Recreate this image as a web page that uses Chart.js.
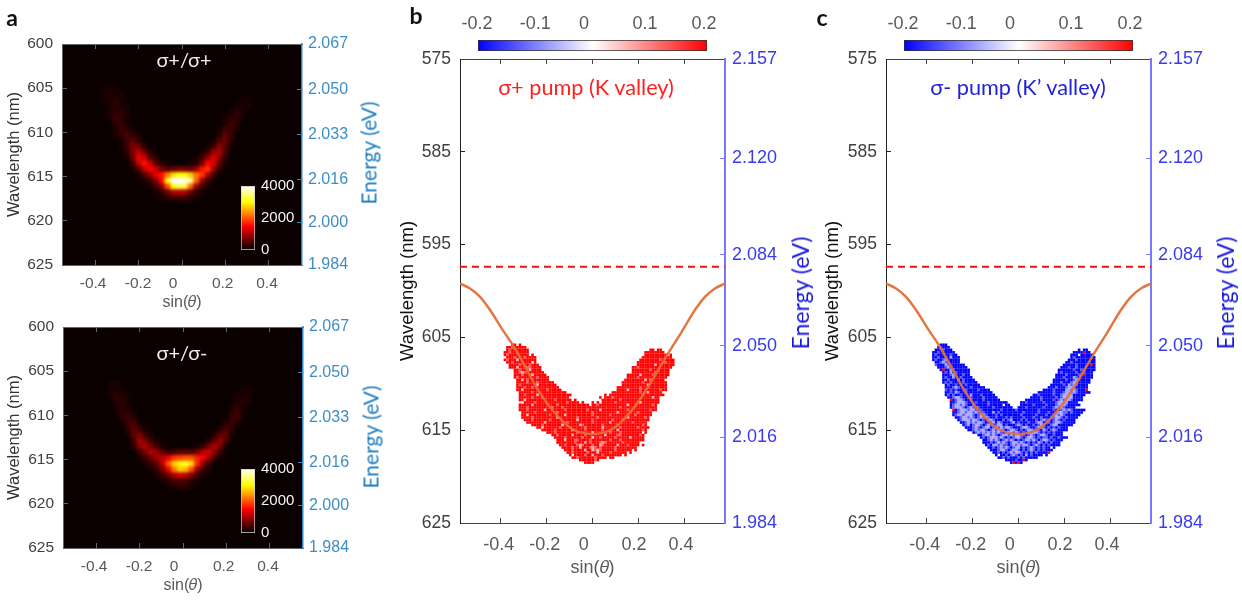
<!DOCTYPE html>
<html>
<head>
<meta charset="utf-8">
<script src="https://cdn.jsdelivr.net/npm/chart.js@4"></script>
<style>
html, body { margin: 0; padding: 0; background: #fff; overflow: hidden; width: 1242px; height: 600px; }
canvas { position: absolute; filter: blur(0.4px); }
.lbl { position: absolute; white-space: nowrap; transform: translate(-50%, -50%); line-height: 1; filter: blur(0.3px); }
.heat { position: absolute; overflow: hidden; background: #0a0000; }
.heat canvas { left: 0; top: 0; filter: blur(1.8px); }
</style>
</head>
<body>
<script>
// axes
const sinTicks = [-0.4, -0.2, 0, 0.2, 0.4];
const sinLabels = ['-0.4', '-0.2', '0', '0.2', '0.4'];
const sinLabelAtA = [-0.409, -0.202, -0.041, 0.187, 0.391];
const sinLabelAtB = [-0.407, -0.207, -0.038, 0.18, 0.384];
const waveTicksA = [600, 605, 610, 615, 620, 625];
const energyTicksA = [2.067, 2.05, 2.033, 2.016, 2.0, 1.984];
const waveTicksB = [575, 585, 595, 605, 615, 625];
const energyTicksB = [2.157, 2.12, 2.084, 2.05, 2.016, 1.984];
const polTicks = [-0.1, 0, 0.1];
const polLabels = ['-0.2', '-0.1', '0', '0.1', '0.2'];
const polLabelAt = [-0.2017, -0.1, -0.0149, 0.0917, 0.1948];
const countTicks = [0, 2000, 4000];

// dispersion curve and pump line, panels b and c
const curveSin = [-0.575, -0.533, -0.489, -0.446, -0.395, -0.344, -0.3, -0.228, -0.154, -0.085, 0, 0.085, 0.176, 0.25, 0.324, 0.387, 0.446, 0.489, 0.533, 0.575];
const curveNm = [599.2, 599.7, 600.6, 602.0, 604.0, 605.9, 607.8, 611.0, 613.4, 614.9, 615.4, 614.9, 612.7, 610.0, 606.9, 604.4, 602.0, 600.6, 599.7, 599.2];
const pumpNm = 597.4;

// PL intensity (hundreds of counts), panels a, grid from heatSin0 / heatNm0
const heatSin0 = -0.4276, heatSinStep = 0.02759, heatNm0 = 604.75, heatNmStep = 0.679;
const heatCoPol = [
[0,0,1,1,1,0,0,0,0,0,0,0,0,0,0,0,0,0,0,0,0,0,0,0,0,0,0,0,0,0],
[0,0,1,1,1,1,0,0,0,0,0,0,0,0,0,0,0,0,0,0,0,0,0,0,0,0,0,0,0,0],
[0,0,1,1,2,1,0,0,0,0,0,0,0,0,0,0,0,0,0,0,0,0,0,0,0,0,1,1,0,0],
[0,0,0,1,2,1,1,0,0,0,0,0,0,0,0,0,0,0,0,0,0,0,0,0,0,1,1,1,0,0],
[0,0,0,1,2,2,1,0,0,0,0,0,0,0,0,0,0,0,0,0,0,0,0,0,1,2,1,0,0,0],
[0,0,0,1,3,2,1,0,0,0,0,0,0,0,0,0,0,0,0,0,0,0,0,1,2,2,1,0,0,0],
[0,0,0,0,2,3,1,0,0,0,0,0,0,0,0,0,0,0,0,0,0,0,0,1,3,2,0,0,0,0],
[0,0,0,0,1,3,2,1,0,0,0,0,0,0,0,0,0,0,0,0,0,0,1,3,3,1,0,0,0,0],
[0,0,0,0,1,2,4,2,1,0,0,0,0,0,0,0,0,0,0,0,0,0,2,5,3,0,0,0,0,0],
[0,0,0,0,0,1,3,5,2,0,0,0,0,0,0,0,0,0,0,0,0,1,4,6,2,0,0,0,0,0],
[0,0,0,0,0,1,3,7,6,2,0,0,0,0,0,0,0,0,0,0,1,3,8,5,1,0,0,0,0,0],
[0,0,0,0,0,0,2,7,11,6,2,0,0,0,0,0,0,0,0,1,3,9,10,4,0,0,0,0,0,0],
[0,0,0,0,0,0,1,6,14,12,5,2,0,0,0,0,0,0,1,3,8,13,8,2,0,0,0,0,0,0],
[0,0,0,0,0,0,0,3,11,16,12,5,2,1,0,0,0,1,2,7,15,13,5,1,0,0,0,0,0,0],
[0,0,0,0,0,0,0,1,4,11,15,12,7,5,6,7,7,6,9,16,18,9,2,0,0,0,0,0,0,0],
[0,0,0,0,0,0,0,0,1,4,8,13,16,22,28,30,30,27,22,18,10,3,0,0,0,0,0,0,0,0],
[0,0,0,0,0,0,0,0,0,1,3,7,15,30,40,44,44,36,21,9,3,0,0,0,0,0,0,0,0,0],
[0,0,0,0,0,0,0,0,0,0,1,3,8,19,30,34,32,21,9,3,1,0,0,0,0,0,0,0,0,0],
[0,0,0,0,0,0,0,0,0,0,0,1,2,6,10,11,10,6,2,1,0,0,0,0,0,0,0,0,0,0],
[0,0,0,0,0,0,0,0,0,0,0,0,1,2,3,3,3,2,1,0,0,0,0,0,0,0,0,0,0,0]
];
const heatCrossPol = [
[0,0,0,0,0,0,0,0,0,0,0,0,0,0,0,0,0,0,0,0,0,0,0,0,0,0,0,0,0,0],
[0,0,0,0,0,0,0,0,0,0,0,0,0,0,0,0,0,0,0,0,0,0,0,0,0,0,0,0,0,0],
[0,0,0,1,1,0,0,0,0,0,0,0,0,0,0,0,0,0,0,0,0,0,0,0,0,0,0,0,0,0],
[0,0,0,1,1,1,0,0,0,0,0,0,0,0,0,0,0,0,0,0,0,0,0,0,0,0,1,1,0,0],
[0,0,0,1,2,1,1,0,0,0,0,0,0,0,0,0,0,0,0,0,0,0,0,0,0,1,1,1,0,0],
[0,0,0,0,2,2,1,0,0,0,0,0,0,0,0,0,0,0,0,0,0,0,0,0,0,1,2,1,0,0],
[0,0,0,0,1,2,1,0,0,0,0,0,0,0,0,0,0,0,0,0,0,0,0,0,1,2,1,0,0,0],
[0,0,0,0,1,2,2,1,0,0,0,0,0,0,0,0,0,0,0,0,0,0,0,0,2,3,1,0,0,0],
[0,0,0,0,0,2,3,2,0,0,0,0,0,0,0,0,0,0,0,0,0,0,0,0,3,3,0,0,0,0],
[0,0,0,0,0,1,3,4,1,0,0,0,0,0,0,0,0,0,0,0,0,0,0,2,3,1,0,0,0,0],
[0,0,0,0,0,0,2,5,3,1,0,0,0,0,0,0,0,0,0,0,0,0,2,4,2,0,0,0,0,0],
[0,0,0,0,0,0,1,5,7,3,1,0,0,0,0,0,0,0,0,0,0,2,5,5,1,0,0,0,0,0],
[0,0,0,0,0,0,0,3,9,7,3,1,0,0,0,0,0,0,0,0,2,5,8,4,0,0,0,0,0,0],
[0,0,0,0,0,0,0,2,8,10,7,3,1,0,0,0,0,0,1,3,7,10,7,1,0,0,0,0,0,0],
[0,0,0,0,0,0,0,0,3,7,10,9,5,3,4,5,5,5,7,11,12,8,2,0,0,0,0,0,0,0],
[0,0,0,0,0,0,0,0,1,3,6,9,11,14,18,19,20,20,17,14,9,3,1,0,0,0,0,0,0,0],
[0,0,0,0,0,0,0,0,0,1,3,5,11,20,27,30,32,28,17,8,3,0,0,0,0,0,0,0,0,0],
[0,0,0,0,0,0,0,0,0,0,1,3,7,14,22,27,26,19,9,3,1,0,0,0,0,0,0,0,0,0],
[0,0,0,0,0,0,0,0,0,0,0,1,3,6,10,12,11,7,3,1,0,0,0,0,0,0,0,0,0,0],
[0,0,0,0,0,0,0,0,0,0,0,0,1,2,4,4,4,2,1,0,0,0,0,0,0,0,0,0,0,0],
[0,0,0,0,0,0,0,0,0,0,0,0,0,1,1,2,2,1,0,0,0,0,0,0,0,0,0,0,0,0]
];

// valley polarization, panels b and c: one entry per wavelength row, [startCol, cells, ...]
// # = saturated, + = mid, o = weak, r = opposite sign, . = no data
const polSin0 = -0.38, polSinStep = 0.0109, polNm0 = 605.8, polNmStep = 0.27;
const polLevelsRed = { '#': 0.2, '+': 0.13, 'o': 0.06 };
const polLevelsBlue = { '#': -0.2, '+': -0.13, 'o': -0.07, 'r': 0.2 };
const polRed = [
[3,"##.#"],
[1,"##+#####"],
[1,"#+#######",58,"##.##"],
[0,"##+#######.",56,"########"],
[0,"#+########.#",56,"#########.#"],
[0,".###+###+####",55,"############."],
[0,"#+###o#######",54,"########+#####"],
[1,"##+#######.#",53,"###########+###"],
[2,"####+###+###",52,".#######o#######"],
[2,"###o###++####",51,"##+#############"],
[3,".##+###o####",51,"#######+#######"],
[4,"##+o+#######",50,".#########+#####"],
[4,"###+###o#####",49,"#####o####+######"],
[4,"#+#######+####",48,".####+###########"],
[5,"##o#+########.",48,"########o#+#####."],
[5,"####+###+######",47,"########+#########"],
[5,"#+######o#######",46,".##########o#######"],
[5,"###+##+##########",45,"#########+##########"],
[5,"##o#########+#####.",45,"####o####+#######+##"],
[6,"#####+#############",43,"###########+##o#####"],
[6,"##+####o#############",40,"#.######################"],
[6,"#####+###+##########.",38,"#.###+###############o##"],
[6,"##o###########+######.#",37,"..#######+###############"],
[6,"o.####+############+####.#",35,"#.#.#####+#########o#######"],
[6,"#####o#########+############",34,".##+###########o#########+#"],
[6,"###+#########+###+###########",35,"###########+##############"],
[6,"###+######o#######+########+####o##########+########+##"],
[6,".#####+########+#############+#########o#######+#####."],
[7,"##o########+#####o##########+######+#########+######"],
[7,"####+#########o#######+#######+###########o######+#"],
[8,"###+######+##########o#####+#######+###+##########"],
[9,"#######o########+#########+######o########+#####"],
[11,"####+#######o######o+#######+#####+#########+#"],
[13,"##o######+#########+######o######+######+####"],
[15,"#####+######o####+######+#####o#########+#"],
[17,"###+########+#####o######+###+########.#"],
[19,"##+#####o####+#######o####++#######+#"],
[20,"####+######+###o##+#####+#####o#####"],
[21,"###o###++####+#######+###+#########"],
[21,"#######+###o#+###+o+######+######"],
[22,"##+####+o+###+##o+#####o###+####.#"],
[23,"####+##o###+o+#+#####+########.."],
[24,"###+####o##o+o+#####+######.#"],
[25,"##+#####+###o####+######.#"],
[26,"#.####+##o###+#######.#"],
[27,"##+######+####.##"],
[30,"######+#"],
[32,"####"]
];
const polBlue = [
[4,"###"],
[3,"#r###"],
[2,"###+###",59,"#.##"],
[1,"##+######",57,"####r##"],
[1,"#+#####+##",56,"###.#####"],
[1,"##+####o###",56,"#+########"],
[1,"#+##+o#####",55,"###+#######"],
[2,"##+o+#####.",54,"##+#########"],
[2,"+###o+######",53,"#####+#####r#"],
[3,"###+o#######",52,"###+##+#######"],
[4,"#r##o+######",51,"######+##+#####"],
[5,"#+#o#+#####",51,"#+#####+##+###"],
[5,"###+o###+##",50,"####+####+#r###"],
[5,"#+##o##+####",50,"###+###o+######"],
[5,"##+###o#+####",49,"#####+##+o+####"],
[5,"#+#+####+#####",49,"###+###+oo#####"],
[6,"#+##+###+#####",48,"#####+#o+o+####"],
[6,"###+o+####+#####",47,"###+###+oo+#####"],
[6,"+#+#+###+####+####",45,"####+####oo+o+###r"],
[6,"##+#o+##+##########",43,"######+###+oo+o+#####"],
[6,"#+#+##+###o###+#####",41,"##+#####+##+oooo#####"],
[7,"##+oo+###+####+#####",40,"####+#####+#+oooo####"],
[8,"r#+oo+##+####+######",38,"######+####+#+o+oo+####"],
[8,"##+ooo+###+####+#######",36,"##+######+####+oooo####"],
[8,"#+oo+o+##+#####+#####.##",36,"#####+####+###+ooo+#####"],
[8,"#+ooo+#+o+#+#####+#######",35,"###+######+###+o+o+####"],
[9,"r#+ooo+oo+#+#######+#####+########+#####+##+o+o+#####"],
[9,"##+oo+oo+o+#+###o#+#########+#####+###+##+oo++#+####"],
[9,"#+oo+ooo+#+oo+###+#+#######+#####+###+##+o+o+######"],
[10,"##+oo+o+#+o+o+##+###+#+####+###+##+####+oo+#+####"],
[11,"#+ooo+oo+#+#oo+###+#+o###+#+###+#+o+##+o+#+####"],
[12,"##+o+o+oo+##+o#o+###+o#+###+##+oo##+#+oo+#####"],
[13,"#+o#+oo+#+o+#+oo#+###+o+#+##+#+o+##+oo######"],
[14,"###+o+#+oo#+o+o+oo+###+oo+##+oo+#+#+#+###"],
[15,"##+o+oo+#+o+oo+#+oo+#+#+oo+#+#o+#+o+####"],
[17,"#+o+o+o+o+o+#+oo+o+#+#o+oo+#+#+#+###"],
[19,"##+oo+o+#+oo+o+oo++#+o+#+oo+##+###"],
[20,"#+#+ooo+o+#+#+oo+#+oo+#+#++#+##+###"],
[21,"##+o+o+#+o+o+#+#+oo+o+#+oo+#+###"],
[21,"###+#+o+o+#+oo+o+#+#+#o+#+#+###"],
[22,"#+#oo+o++#+o+o+oo+#+o+#+#+####"],
[23,"##+#+o+o+#+oo#+#+o+#+#+##.#"],
[24,"###+oo+#+oo+#+#+o+#+#+###"],
[25,"##+#+#+o+oo+#+#+#+####r"],
[26,"#.##+#+o+#+#o#+####.#"],
[27,"##+#+###+#+#####"],
[30,"####+##r#"],
[32,"#r#r#"]
];

const hotStops = [[0, '#000000'], [0.375, '#ff0000'], [0.75, '#ffff00'], [1, '#ffffff']];
const polStops = [[0, '#0000ff'], [0.5, '#ffffff'], [1, '#ff0000']];

const SANS = '"Liberation Sans", Arial, sans-serif';
const LATO = 'Lato, "Open Sans", sans-serif';

Chart.defaults.animation = false;
Chart.defaults.events = [];
Chart.defaults.plugins.legend.display = false;
Chart.defaults.plugins.tooltip.enabled = false;

function addCanvas(left, top, width, height, parent) {
    const c = document.createElement('canvas');
    c.width = width;
    c.height = height;
    c.style.left = left + 'px';
    c.style.top = top + 'px';
    (parent || document.body).appendChild(c);
    return c;
}

function addLabel(text, x, y, css) {
    const d = document.createElement('div');
    d.className = 'lbl';
    d.textContent = text;
    d.style.left = x + 'px';
    d.style.top = y + 'px';
    d.style.cssText += css;
    document.body.appendChild(d);
}

function setTicks(values) {
    return s => { s.ticks = values.map(value => ({ value })); };
}

// pin an axis to a fixed thickness, and stop its labels from pushing the plot in
function fixSize(prop, size) {
    return s => {
        s[prop] = size;
        s.paddingTop = s.paddingBottom = s.paddingLeft = s.paddingRight = 0;
    };
}

function hotColor(v) {
    const t = v / 40;
    const r = Math.min(255, Math.round(10 + 245 * t / 0.375));
    const g = Math.max(0, Math.min(255, Math.round(255 * (t - 0.375) / 0.375)));
    const b = Math.max(0, Math.min(255, Math.round(255 * (t - 0.75) / 0.25)));
    return `rgb(${r},${g},${b})`;
}

function polColor(v) {
    const k = Math.round(255 * (1 - Math.abs(v) / 0.2));
    return v > 0 ? `rgb(255,${k},${k})` : `rgb(${k},${k},255)`;
}

function heatPoints(grid) {
    const pts = [];
    grid.forEach((row, i) => row.forEach((v, j) => {
        if (v > 0) pts.push({ x: heatSin0 + j * heatSinStep, y: heatNm0 + i * heatNmStep, v });
    }));
    return pts;
}

function polPoints(rows, levels) {
    const pts = [];
    rows.forEach((row, i) => {
        for (let k = 0; k < row.length; k += 2) {
            [...row[k + 1]].forEach((ch, n) => {
                if (ch === '.') return;
                pts.push({ x: polSin0 + (row[k] + n) * polSinStep, y: polNm0 + i * polNmStep, v: levels[ch] });
            });
        }
    });
    return pts;
}

// frame: axes only or axes + datasets, plot is the inner rectangle in page px
function frame(box, plot, o) {
    const leftW = plot.left - box.left, rightW = box.right - plot.right;
    const botH = box.bottom - plot.bottom;
    const tickGrid = color => ({ drawOnChartArea: false, drawTicks: true, tickLength: -5, tickColor: color, tickWidth: 1 });
    const hidden = { display: false };
    const c = addCanvas(box.left, box.top, box.right - box.left, box.bottom - box.top);
    new Chart(c, {
        type: 'scatter',
        data: { datasets: o.datasets || [] },
        options: {
            responsive: false,
            layout: { padding: { top: plot.top - box.top } },
            scales: {
                x: {
                    type: 'linear', position: 'bottom', min: -o.xMax, max: o.xMax,
                    afterBuildTicks: setTicks(sinTicks), afterFit: fixSize('height', 0),
                    ticks: hidden, grid: tickGrid(o.frameColor), border: { color: o.frameColor, width: o.lineW }
                },
                xTop: {
                    type: 'linear', position: 'top', min: -o.xMax, max: o.xMax,
                    afterBuildTicks: setTicks(sinTicks), afterFit: fixSize('height', 0),
                    ticks: hidden, grid: tickGrid(o.frameColor), border: { color: o.frameColor, width: o.lineW }
                },
                xLab: {
                    type: 'linear', position: 'bottom', weight: 1, min: -o.xMax, max: o.xMax,
                    afterBuildTicks: setTicks(o.labelAt), afterFit: fixSize('height', botH),
                    ticks: {
                        callback: (v, i) => sinLabels[i], autoSkip: false, maxRotation: 0, padding: o.xPad,
                        color: '#595959', font: { family: SANS, size: o.xFont }
                    },
                    grid: { display: false, drawTicks: false }, border: { display: false },
                    title: {
                        display: true, text: 'sin(\u{1D703})', color: '#595959',
                        font: { family: SANS, size: o.sinFont }, padding: { top: 0, bottom: o.sinPad }
                    }
                },
                y: {
                    type: 'linear', position: 'left', reverse: true, min: o.nm[0], max: o.nm[o.nm.length - 1],
                    afterBuildTicks: setTicks(o.nm), afterFit: fixSize('width', leftW),
                    ticks: {
                        callback: v => String(v), autoSkip: false, padding: 14,
                        color: '#404040', font: { family: SANS, size: o.yFont }
                    },
                    grid: tickGrid(o.leftColor), border: { color: o.leftColor, width: o.lineW },
                    title: {
                        display: true, text: 'Wavelength (nm)', color: o.waveColor,
                        font: { family: SANS, size: o.waveFont }, padding: { top: o.wavePad, bottom: 0 }
                    }
                },
                y2: {
                    type: 'linear', position: 'right', min: o.ev[o.ev.length - 1], max: o.ev[0],
                    afterBuildTicks: setTicks(o.ev), afterFit: fixSize('width', rightW),
                    ticks: {
                        callback: v => v.toFixed(3), autoSkip: false, padding: o.evPad,
                        color: o.evColor, font: { family: SANS, size: o.evFont }
                    },
                    grid: tickGrid(o.rightColor), border: { color: o.rightColor, width: o.rightW }
                }
            }
        }
    });
}

function heatPanel(plot, grid) {
    const wrap = document.createElement('div');
    wrap.className = 'heat';
    const w = plot.right - plot.left, h = plot.bottom - plot.top;
    wrap.style.cssText = `left:${plot.left}px;top:${plot.top}px;width:${w}px;height:${h}px`;
    document.body.appendChild(wrap);
    const c = addCanvas(0, 0, w, h, wrap);
    new Chart(c, {
        type: 'scatter',
        data: {
            datasets: [{
                data: heatPoints(grid),
                pointStyle: 'rect', pointRadius: 4.4, pointBorderWidth: 0,
                pointBackgroundColor: ctx => hotColor(ctx.raw.v)
            }]
        },
        options: {
            responsive: false,
            scales: {
                x: { type: 'linear', display: false, min: -0.552, max: 0.552 },
                y: { type: 'linear', display: false, reverse: true, min: 600, max: 625 }
            }
        }
    });
}

function gradient(chart, stops, vertical) {
    const a = chart.chartArea;
    if (!a) return '#000';
    const g = vertical ? chart.ctx.createLinearGradient(0, a.bottom, 0, a.top)
                       : chart.ctx.createLinearGradient(a.left, 0, a.right, 0);
    stops.forEach(s => g.addColorStop(s[0], s[1]));
    return g;
}

function countBar(left, top) {
    const c = addCanvas(left - 6, top - 10, 70, 85);
    new Chart(c, {
        type: 'bar',
        data: {
            labels: [''],
            datasets: [{
                data: [[0, 4000]], barPercentage: 1, categoryPercentage: 1,
                borderWidth: 1, borderColor: '#cfcfcf', borderSkipped: false,
                backgroundColor: ctx => gradient(ctx.chart, hotStops, true)
            }]
        },
        options: {
            responsive: false,
            layout: { padding: { left: 6, top: 10, bottom: 11 } },
            scales: {
                x: { display: false },
                y: {
                    position: 'right', min: 0, max: 4000,
                    afterBuildTicks: setTicks(countTicks), afterFit: fixSize('width', 50),
                    ticks: { callback: v => String(v), padding: 6, color: '#f4f4f4', font: { family: SANS, size: 15 } },
                    grid: { display: false, drawTicks: false }, border: { display: false }
                }
            }
        }
    });
}

function polBar(left, top) {
    const c = addCanvas(left - 25, 0, 280, top + 13);
    new Chart(c, {
        type: 'bar',
        data: {
            labels: [''],
            datasets: [{
                data: [[-0.2, 0.2]], barPercentage: 1, categoryPercentage: 1,
                borderWidth: 1, borderColor: '#333', borderSkipped: false,
                backgroundColor: ctx => gradient(ctx.chart, polStops, false)
            }]
        },
        options: {
            indexAxis: 'y',
            responsive: false,
            layout: { padding: { left: 25, right: 26, bottom: 2 } },
            scales: {
                y: { display: false },
                x: {
                    position: 'top', min: -0.2, max: 0.2,
                    afterBuildTicks: setTicks(polTicks), afterFit: fixSize('height', 0),
                    ticks: { display: false },
                    grid: { drawOnChartArea: false, tickLength: -3, tickColor: '#333' }, border: { display: false }
                },
                xLab: {
                    position: 'top', weight: 1, min: -0.2, max: 0.2,
                    afterBuildTicks: setTicks(polLabelAt), afterFit: fixSize('height', top),
                    ticks: {
                        callback: (v, i) => polLabels[i], autoSkip: false, maxRotation: 0, padding: 5,
                        color: '#595959', font: { family: SANS, size: 18 }
                    },
                    grid: { display: false, drawTicks: false }, border: { display: false }
                }
            }
        }
    });
}

const optA = {
    xMax: 0.552, labelAt: sinLabelAtA, nm: waveTicksA, ev: energyTicksA, lineW: 1,
    frameColor: '#666', leftColor: '#666', rightColor: '#2f86c0', rightW: 1.5, evColor: '#3e8ec4', evPad: 11,
    xPad: 9, xFont: 15.5, yFont: 15.5, evFont: 16, sinFont: 16, sinPad: 6, waveFont: 16.5, wavePad: 5, waveColor: '#333'
};
const optB = {
    xMax: 0.575, labelAt: sinLabelAtB, nm: waveTicksB, ev: energyTicksB, lineW: 1,
    frameColor: '#444', leftColor: '#222', rightColor: '#7777ff', rightW: 2, evColor: '#3a3aee', evPad: 12,
    xPad: 11, xFont: 18, yFont: 17.5, evFont: 18, sinFont: 18, sinPad: 11, waveFont: 18.5, wavePad: 2, waveColor: '#111'
};

function topDatasets(cells) {
    return [
        {
            data: curveSin.map((x, i) => ({ x, y: curveNm[i] })), showLine: true, pointRadius: 0,
            borderColor: 'rgba(226,112,58,0.95)', borderWidth: 2.5, cubicInterpolationMode: 'monotone'
        },
        {
            data: [{ x: -0.575, y: pumpNm }, { x: 0.575, y: pumpNm }], showLine: true, pointRadius: 0,
            borderColor: '#ee1111', borderWidth: 2, borderDash: [7, 5]
        },
        {
            data: cells, pointStyle: 'rect', pointRadius: 1.85, pointBorderWidth: 0,
            pointBackgroundColor: ctx => polColor(ctx.raw.v)
        }
    ];
}

// panel a
const plotA1 = { left: 62, top: 44, right: 302, bottom: 265 };
const plotA2 = { left: 63, top: 327, right: 303, bottom: 548 };
heatPanel(plotA1, heatCoPol);
heatPanel(plotA2, heatCrossPol);
frame({ left: 0, top: 34, right: 370, bottom: 318 }, plotA1, optA);
frame({ left: 0, top: 317, right: 370, bottom: 601 }, plotA2, optA);
countBar(241, 186);
countBar(241, 469);

// panels b, c
frame({ left: 395, top: 45, right: 790, bottom: 590 }, { left: 460, top: 59, right: 725, bottom: 523 },
    Object.assign({ datasets: topDatasets(polPoints(polRed, polLevelsRed)) }, optB));
frame({ left: 820, top: 45, right: 1215, bottom: 590 }, { left: 886, top: 59, right: 1151, bottom: 523 },
    Object.assign({ datasets: topDatasets(polPoints(polBlue, polLevelsBlue)) }, optB));
polBar(478, 40);
polBar(904, 40);

// text that the scales cannot place
const energyTop = `font:21px ${LATO};color:#1f7fc1;transform:translate(-50%,-50%) rotate(-90deg);`;
const energyBig = `font:23px ${LATO};color:#1818dd;transform:translate(-50%,-50%) rotate(-90deg);`;
addLabel('Energy (eV)', 368, 153, energyTop);
addLabel('Energy (eV)', 370, 437, energyTop);
addLabel('Energy (eV)', 800, 293, energyBig);
addLabel('Energy (eV)', 1225, 293, energyBig);
addLabel('\u03c3+/\u03c3+', 184, 59, `font:20px ${LATO};color:#eee;`);
addLabel('\u03c3+/\u03c3-', 182, 352, `font:20px ${LATO};color:#eee;`);
addLabel('\u03c3+ pump (K valley)', 586, 87, `font:21.7px ${LATO};color:#ff2020;`);
addLabel('\u03c3- pump (K\u2019 valley)', 1018, 87, `font:21.7px ${LATO};color:#2222dd;`);
addLabel('a', 12, 17, `font:bold 23px ${LATO};color:#111;`);
addLabel('b', 416, 15, `font:bold 23px ${LATO};color:#111;`);
addLabel('c', 822, 17, `font:bold 23px ${LATO};color:#111;`);
</script>
</body>
</html>
